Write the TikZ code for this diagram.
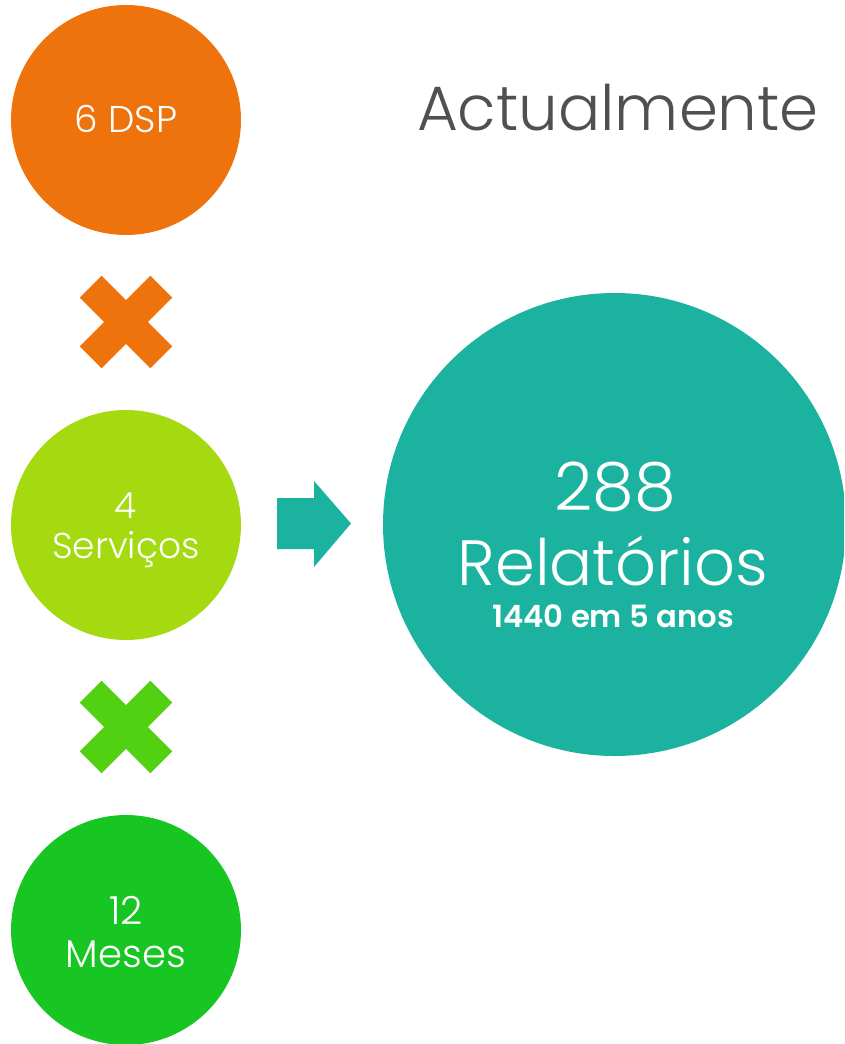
\documentclass[tikz,border=0pt]{standalone}
\usepackage{fontspec}
\setmainfont{Poppins}[UprightFont=* Light, BoldFont=* SemiBold]
\definecolor{cOrange}{RGB}{238,115,13}
\definecolor{cLime}{RGB}{165,218,17}
\definecolor{cXGreen}{RGB}{82,209,18}
\definecolor{cGreen}{RGB}{23,198,35}
\definecolor{cTeal}{RGB}{27,179,160}
\definecolor{cGray}{RGB}{80,80,80}
\tikzset{
  disc/.style={circle, inner sep=0pt, minimum size=#1*0.75pt},
  wtxt/.style={text=white, inner sep=0pt, anchor=base},
}
\newcommand{\crossshape}{(15.5,15.5) -- (15.5,50) -- (-15.5,50) -- (-15.5,15.5) -- (-50,15.5) -- (-50,-15.5) -- (-15.5,-15.5) -- (-15.5,-50) -- (15.5,-50) -- (15.5,-15.5) -- (50,-15.5) -- (50,15.5) -- cycle}
\begin{document}
\begin{tikzpicture}[x=0.75pt,y=-0.75pt]
\path[use as bounding box] (0,0) rectangle (844,1044);
\clip (0,0) rectangle (844,1044);
% circles
\node[disc=230, fill=cOrange] (dsp) at (126,120) {};
\node[disc=230, fill=cLime] (serv) at (126,525) {};
\node[disc=230, fill=cGreen] (meses) at (126,930) {};
\node[disc=463, fill=cTeal] (rel) at (614.5,524.5) {};
% crosses
\begin{scope}[shift={(126,322)}, rotate=45]
  \fill[cOrange] \crossshape;
\end{scope}
\begin{scope}[shift={(126,727)}, rotate=45]
  \fill[cXGreen] \crossshape;
\end{scope}
% arrow
\coordinate (arrowtail) at (277,523.5);
\fill[cTeal] (arrowtail) ++(0,-25.5) -- (314,498) -- (314,481) -- (351,523.5) -- (314,567) -- (314,549) -- (277,549) -- cycle;
% texts
\node[text=cGray, inner sep=0pt, anchor=base] (title) at (618,131) {\fontsize{47}{50}\selectfont Actualmente};
\node[wtxt] (dsplbl) at (dsp.center |- 0,133) {\fontsize{28}{30}\selectfont 6 DSP};
\node[wtxt] (servnum) at (serv.center |- 0,518) {\fontsize{27}{30}\selectfont 4};
\node[wtxt] (servlbl) at (serv.center |- 0,558) {\fontsize{27}{30}\selectfont Serviços};
\node[wtxt] (mesnum) at (meses.center |- 0,924) {\fontsize{29}{30}\selectfont 12};
\node[wtxt] (meslbl) at (meses.center |- 0,967) {\fontsize{29}{30}\selectfont Meses};
\node[wtxt] (relnum) at (615,510) {\fontsize{50}{50}\selectfont 288};
\node[wtxt] (rellbl) at (613,585) {\fontsize{48}{50}\selectfont Relatórios};
\node[wtxt] (relsub) at (613,627) {\fontsize{23}{25}\selectfont\bfseries 1440 em 5 anos};
\end{tikzpicture}
\end{document}
